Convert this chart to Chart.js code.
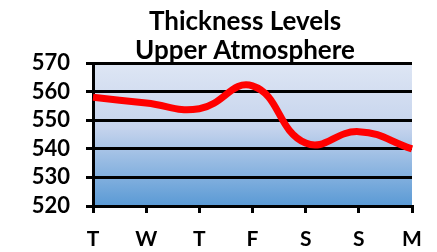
<!DOCTYPE html>
<html>
<head>
<meta charset="utf-8">
<script src="https://cdn.jsdelivr.net/npm/chart.js@4"></script>
<style>
  html, body { margin: 0; padding: 0; background: #fff; }
  #wrap { width: 437px; height: 252px; }
</style>
</head>
<body>
<div id="wrap"><canvas id="chart"></canvas></div>
<script>
// data
const days = ['T', 'W', 'T', 'F', 'S', 'S', 'M'];
const thickness = [558, 556, 554, 562, 542, 546, 540];
const titleLines = ['Thickness Levels', 'Upper Atmosphere'];

const FONT = 'Lato, "Open Sans", sans-serif';

// plot background gradient
const bgPlugin = {
    id: 'plotBg',
    beforeDraw(chart) {
        const { ctx, chartArea: a } = chart;
        const g = ctx.createLinearGradient(0, a.top, 0, a.bottom);
        g.addColorStop(0, '#dee6f4');
        g.addColorStop(0.45, '#c6d4ed');
        g.addColorStop(1, '#5a9ad5');
        ctx.save();
        ctx.fillStyle = g;
        ctx.fillRect(a.left, a.top, a.right - a.left, a.bottom - a.top);
        ctx.restore();
    }
};

// title drawn over the plot area (it overlaps the top line like the original)
const titlePlugin = {
    id: 'bigTitle',
    afterDraw(chart) {
        const { ctx } = chart;
        ctx.save();
        ctx.fillStyle = '#000';
        ctx.font = 'bold 26px ' + FONT;
        ctx.textAlign = 'center';
        ctx.textBaseline = 'alphabetic';
        ctx.fillText(titleLines[0], 245, 30);
        ctx.fillText(titleLines[1], 245, 59);
        ctx.restore();
    }
};

new Chart(document.getElementById('chart'), {
    type: 'line',
    data: {
        labels: days,
        datasets: [{
            data: thickness,
            borderColor: '#ff0000',
            borderWidth: 7,
            pointRadius: 0,
            tension: 0.45,
            fill: false
        }]
    },
    options: {
        responsive: true,
        maintainAspectRatio: false,
        animation: false,
        layout: { padding: { top: 63, right: 25, left: 0, bottom: 0 } },
        plugins: {
            legend: { display: false },
            tooltip: { enabled: false }
        },
        scales: {
            x: {
                offset: false,
                grid: {
                    drawOnChartArea: false,
                    color: '#000',
                    lineWidth: 3,
                    tickLength: 7
                },
                border: { color: '#000', width: 3 },
                ticks: {
                    color: '#000',
                    padding: 14,
                    maxRotation: 0,
                    autoSkip: false,
                    font: { family: FONT, size: 21, weight: 'bold' }
                },
                afterFit(scale) { scale.height = 46; }
            },
            y: {
                min: 520,
                max: 570,
                ticks: {
                    stepSize: 10,
                    autoSkip: false,
                    color: '#000',
                    padding: 16,
                    font: { family: FONT, size: 22, weight: 'bold' }
                },
                grid: {
                    color: '#000',
                    lineWidth: 3,
                    tickLength: 7
                },
                border: { color: '#000', width: 3 },
                afterFit(scale) { scale.width = 93; }
            }
        }
    },
    plugins: [bgPlugin, titlePlugin]
});
</script>
</body>
</html>
